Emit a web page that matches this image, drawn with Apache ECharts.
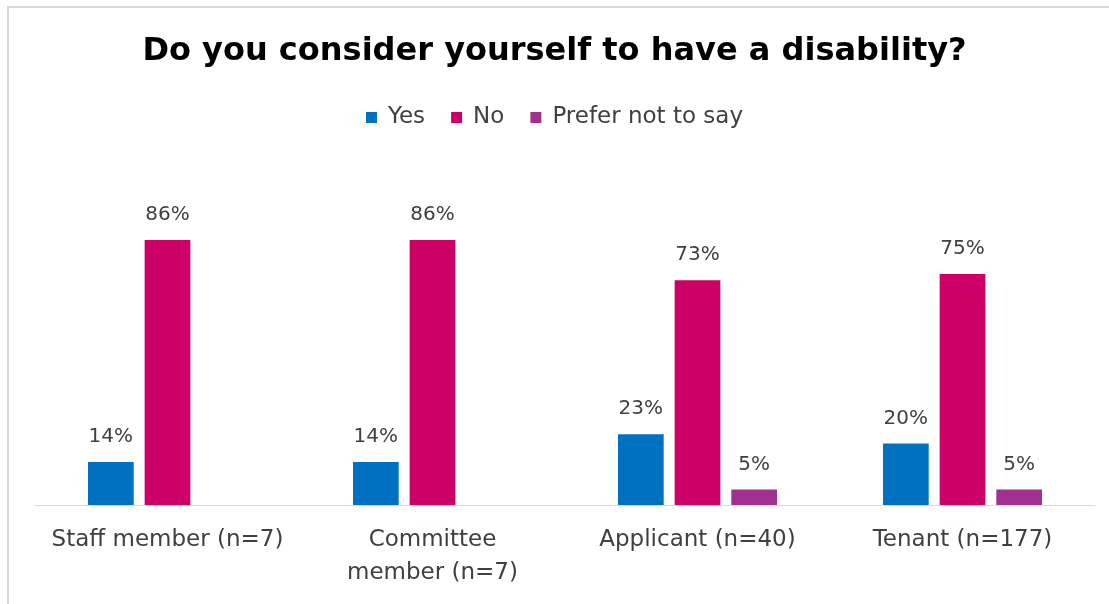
<!DOCTYPE html>
<html>
<head>
<meta charset="utf-8">
<script src="https://cdn.jsdelivr.net/npm/echarts@6/dist/echarts.min.js"></script>
<style>
  html, body { margin: 0; padding: 0; background: #fff; }
  #frame { position: absolute; left: 7px; top: 6px; width: 1102px; height: 598px;
           border-left: 2px solid #d9d9d9; border-top: 2px solid #d9d9d9; box-sizing: border-box; }
  #chart { position: absolute; left: 0; top: 0; width: 1109px; height: 604px; }
</style>
</head>
<body>
<div id="frame"></div>
<div id="chart"></div>
<script>
// Survey groups and percentage answers per group
const categories = ['Staff member (n=7)', 'Committee\nmember (n=7)', 'Applicant (n=40)', 'Tenant (n=177)'];
const yesValues = [14, 14, 23, 20];
const noValues = [86, 86, 73, 75];
const preferNotValues = [null, null, 5, 5];
const seriesNames = ['Yes', 'No', 'Prefer not to say'];

const FONT = 'DejaVu Sans';
const labelStyle = {
  show: true,
  position: 'top',
  distance: 15,
  color: '#404040',
  fontFamily: FONT,
  fontSize: 20,
  formatter: p => p.value == null ? '' : p.value + '%'
};

function bar(name, data, color) {
  return {
    name: name,
    type: 'bar',
    data: data,
    barGap: '24%',
    barCategoryGap: '40%',
    itemStyle: { color: color },
    label: labelStyle
  };
}

const chart = echarts.init(document.getElementById('chart'), null, { renderer: 'canvas' });
chart.setOption({
  animation: false,
  backgroundColor: 'transparent',
  title: {
    text: 'Do you consider yourself to have a disability?',
    left: 'center',
    top: 31,
    textStyle: { fontFamily: FONT, fontWeight: 'bold', fontSize: 32, color: '#000' }
  },
  legend: {
    top: 101,
    left: 'center',
    itemWidth: 11,
    itemHeight: 11,
    itemGap: 26,
    icon: 'rect',
    textStyle: { fontFamily: FONT, fontSize: 23, color: '#404040', padding: [0, 0, 0, 6] },
    data: seriesNames
  },
  grid: { left: 35, right: 14, top: 197, bottom: 99, containLabel: false },
  xAxis: {
    type: 'category',
    data: categories,
    axisLine: { lineStyle: { color: '#d9d9d9', width: 1 } },
    axisTick: { show: false },
    axisLabel: { interval: 0, fontFamily: FONT, fontSize: 23, color: '#404040', margin: 19, lineHeight: 33 }
  },
  yAxis: {
    type: 'value',
    min: 0,
    max: 100,
    show: false,
    splitLine: { show: false }
  },
  series: [
    bar(seriesNames[0], yesValues, '#0070C0'),
    bar(seriesNames[1], noValues, '#CC0066'),
    bar(seriesNames[2], preferNotValues, '#A2308F')
  ]
});
</script>
</body>
</html>
